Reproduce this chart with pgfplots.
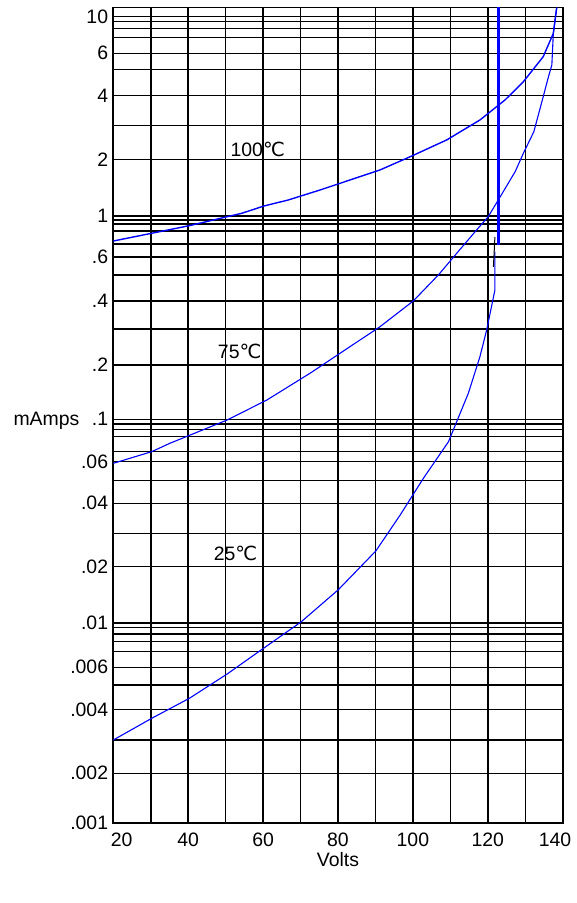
\documentclass[border=0pt]{standalone}
\usepackage{pgfplots}
\pgfplotsset{compat=1.18}
\usepackage{fontspec}
\setmainfont{Liberation Sans}
\newfontfamily\djv{DejaVu Sans}
\newcommand{\degC}{{\djv ℃}}
\begin{document}
\begin{tikzpicture}[font=\fontsize{19.5}{22}\selectfont]
\useasboundingbox (0,0) rectangle (577bp,-903bp);
\begin{axis}[
  at={(113.3bp,-822.7bp)}, anchor=south west,
  scale only axis, width=449.4bp, height=815.4bp,
  xmin=20, xmax=140, ymode=log, ymin=0.001, ymax=11.13,
  axis line style={black, line width=1.6bp},
  major tick length=0pt, minor tick length=0pt,
  grid=major, major grid style={black, line width=1.5bp},
  xtick={20,30,...,140},
  xticklabels={\kern16.8bp 20,{},40,{},60,{},80,{},100,{},120,{},140\kern15.4bp},
  xticklabel style={inner sep=0pt, anchor=north, yshift=-10bp},
  ytick={0.001,0.001759,0.002573,0.003653,0.004825,0.005905,0.007058,0.007911,0.008640,0.009327,0.009796,0.01864,0.02731,0.03847,0.04982,0.06187,0.06938,0.08232,0.08960,0.09520,0.10046,0.1868,0.2818,0.3883,0.5226,0.6420,0.7448,0.8640,0.9359,0.9796,1.0255,1.960,2.878,4.054,5.482,6.581,7.903,8.759,9.445,10},
  yticklabels={.001,.002,{},.004,{},.006,{},{},{},{},.01,.02,{},.04,{},.06,{},{},{},{},.1,.2,{},.4,{},.6,{},{},{},{},1,2,{},4,{},6,{},{},{},10},
  yticklabel style={inner sep=0pt, anchor=east, xshift=-5bp},
  xlabel={Volts},
  xlabel style={at={(axis description cs:0.5,0)}, anchor=center, yshift=-37bp},
  ylabel={mAmps},
  ylabel style={rotate=-90, at={(axis description cs:-0.2299,0.4929)}, anchor=west},
  clip=true,
]
% 100 C
\addplot[blue, line width=1.4bp] coordinates {
(20,0.7705) (30.25,0.8416) (40.3,0.9180) (50.4,1.017) (54.3,1.0575) (60.2,1.149)
(66.7,1.231) (75.2,1.380) (91.2,1.735) (99.7,2.035) (109.0,2.444) (117.9,3.071)
(124.6,3.861) (129.5,4.757) (134.8,6.331) (137.5,8.272) (138.4,11.1)};
% 75 C
\addplot[blue, line width=1.1bp] coordinates {
(20,0.06074) (30.25,0.06940) (35.1,0.07637) (50.4,0.09966) (61.0,0.1252) (72.5,0.1699)
(91.2,0.2893) (100.1,0.3883) (106.8,0.5226) (111.7,0.6695) (117.0,0.8737) (120.1,1.017)
(122.8,1.231) (127.3,1.701) (129.5,2.100) (132.3,2.688) (134.8,4.009) (136.2,5.037)
(137.1,5.757) (137.5,8.272) (138.4,11.1)};
% 25 C
\addplot[blue, line width=1.1bp] coordinates {
(20,0.002573) (30.25,0.003297) (40.3,0.004143) (50.4,0.005470) (59.2,0.007140)
(70.1,0.009908) (80.0,0.01428) (90.1,0.02231) (96.6,0.03365) (102.8,0.05119)
(109.5,0.07777) (114.8,0.1352) (117.9,0.2055) (119.7,0.2787) (121.9,0.4403) (121.9,0.6823)};
% breakdown line
\addplot[blue, line width=3.5bp] coordinates {(122.8,0.7362) (122.8,11.13)};
\addplot[black, line width=1bp] coordinates {(121.5,0.5726) (121.9,0.8067)};
\node at (axis cs:58.56,2.192) {100\degC};
\node at (axis cs:53.75,0.2176) {75\degC};
\node at (axis cs:52.63,0.02173) {25\degC};
\end{axis}
\end{tikzpicture}
\end{document}
